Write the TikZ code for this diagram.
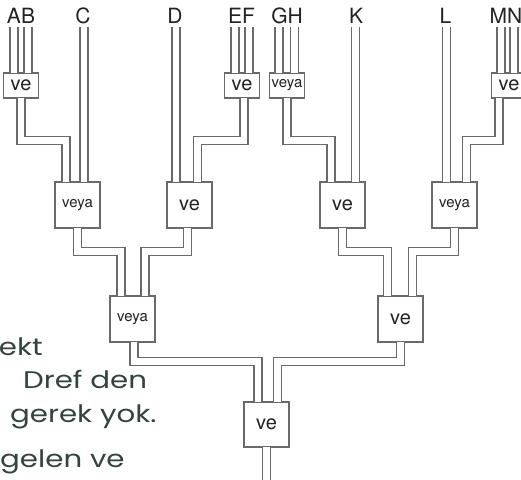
\documentclass[tikz,border=0pt]{standalone}
\usepackage{fontspec}
\setmainfont{TeX Gyre Heros}
\newfontfamily\hand{Poppins}
\definecolor{linegray}{HTML}{6A6A6A}
\definecolor{textc}{HTML}{222222}
\definecolor{handc}{HTML}{33433E}
\newcommand{\handtext}[1]{\scalebox{1.22}[1]{#1}}
\begin{document}
\begin{tikzpicture}[x=1pt,y=-1pt,
  wire/.style={draw=linegray, line width=1.3pt, double=white, double distance=6.7pt, shorten <=-0.65pt, shorten >=-0.65pt},
  gate/.style={draw=linegray, line width=1.3pt, fill=white, inner sep=0pt, text=textc},
  g1/.style={gate, minimum width=35pt, minimum height=25pt},
  g2/.style={gate, minimum width=45pt, minimum height=46pt},
  ve/.style={font=\fontsize{20}{20}\selectfont},
  veya/.style={font=\fontsize{15}{15}\selectfont},
  lbl/.style={font=\fontsize{21}{21}\selectfont, text=textc, inner sep=0pt, anchor=base},
  note/.style={font=\hand\fontsize{24}{24}\selectfont, text=handc, inner sep=0pt}
]
\useasboundingbox (0,0) rectangle (521,479);
\fill[white] (0,0) rectangle (521,479);
\clip (0,0) rectangle (521,479);

% input labels
\node[lbl] (AB) at (21,23) {AB};
\node[lbl] (C) at (83,23) {C};
\node[lbl] (D) at (175,23) {D};
\node[lbl] (EF) at (241.5,23) {EF};
\node[lbl] (GH) at (287,23) {GH};
\node[lbl] (K) at (356,23) {K};
\node[lbl] (L) at (445.5,23) {L};
\node[lbl] (MN) at (506,23) {MN};

% wire tops
\coordinate (a-top) at (14,28);
\coordinate (b-top) at (28,28);
\coordinate (c-top) at (84,28);
\coordinate (d-top) at (176,28);
\coordinate (e-top) at (235,28);
\coordinate (f-top) at (249,28);
\coordinate (g-top) at (279,28);
\coordinate (h-top) at (294.5,28);
\coordinate (k-top) at (355.5,28);
\coordinate (l-top) at (446.5,28);
\coordinate (m-top) at (501,28);
\coordinate (n-top) at (514,28);

% gates
\node[g1,ve]   (g1a) at (21,85.5) {ve};
\node[g1,ve]   (g1b) at (242,85.5) {ve};
\node[g1,veya] (g1c) at (287,85.5) {veya};
\node[g1,ve]   (g1d) at (509,85.5) {ve};

\node[g2,veya] (l2a) at (77.5,205) {veya};
\node[g2,ve]   (l2b) at (189.5,205) {ve};
\node[g2,ve]   (l2c) at (342.5,205) {ve};
\node[g2,veya] (l2d) at (454.5,205) {veya};

\node[g2,veya] (l3a) at (132.5,319) {veya};
\node[g2,ve]   (l3b) at (400.5,319) {ve};

\node[g2,ve,minimum height=45pt] (l4) at (266.5,424.5) {ve};
\coordinate (out) at (267,485);

% input wires
\draw[wire] (a-top) -- (a-top |- g1a.north);
\draw[wire] (b-top) -- (b-top |- g1a.north);
\draw[wire] (e-top) -- (e-top |- g1b.north);
\draw[wire] (f-top) -- (f-top |- g1b.north);
\draw[wire] (g-top) -- (g-top |- g1c.north);
\draw[wire] (h-top) -- (h-top |- g1c.north);
\draw[wire] (m-top) -- (m-top |- g1d.north);
\draw[wire] (n-top) -- (n-top |- g1d.north);
\draw[wire] (c-top) -- (c-top |- l2a.north);
\draw[wire] (d-top) -- (d-top |- l2b.north);
\draw[wire] (k-top) -- (k-top |- l2c.north);
\draw[wire] (l-top) -- (l-top |- l2d.north);

% level 1 -> level 2
\draw[wire] (g1a.south) -- ++(0,42) -| ([xshift=-11.5pt]l2a.north);
\draw[wire] ([xshift=2pt]g1b.south) -- ++(0,42) -| ([xshift=8pt]l2b.north);
\draw[wire] (g1c.south) -- ++(0,42) -| ([xshift=-11.5pt]l2c.north);
\draw[wire] ([xshift=-10pt]g1d.south) -- ++(0,42) -| ([xshift=12pt]l2d.north);

% level 2 -> level 3
\draw[wire] (l2a.south) -- ++(0,23) -| ([xshift=-11.5pt]l3a.north);
\draw[wire] ([xshift=-2pt]l2b.south) -- ++(0,23) -| ([xshift=12.5pt]l3a.north);
\draw[wire] (l2c.south) -- ++(0,23) -| ([xshift=-13pt]l3b.north);
\draw[wire] (l2d.south) -- ++(0,23) -| ([xshift=12pt]l3b.north);

% level 3 -> level 4
\draw[wire] ([xshift=1.5pt]l3a.south) -- ++(0,19) -| ([xshift=-8.5pt]l4.north);
\draw[wire] (l3b.south) -- ++(0,19) -| ([xshift=11pt]l4.north);
\draw[wire] (l4.south) -- (l4.south |- out);

% handwritten note (cut at the left edge)
\node[note, anchor=base east] (n1) at (43,355) {\handtext{ekt}};
\node[note, anchor=base west] (n2) at (23,388) {\handtext{Dref den}};
\node[note, anchor=base west] (n3) at (10,422) {\handtext{gerek yok.}};
\node[note, anchor=base west] (n4) at (0,467) {\handtext{gelen ve}};
\end{tikzpicture}
\end{document}
